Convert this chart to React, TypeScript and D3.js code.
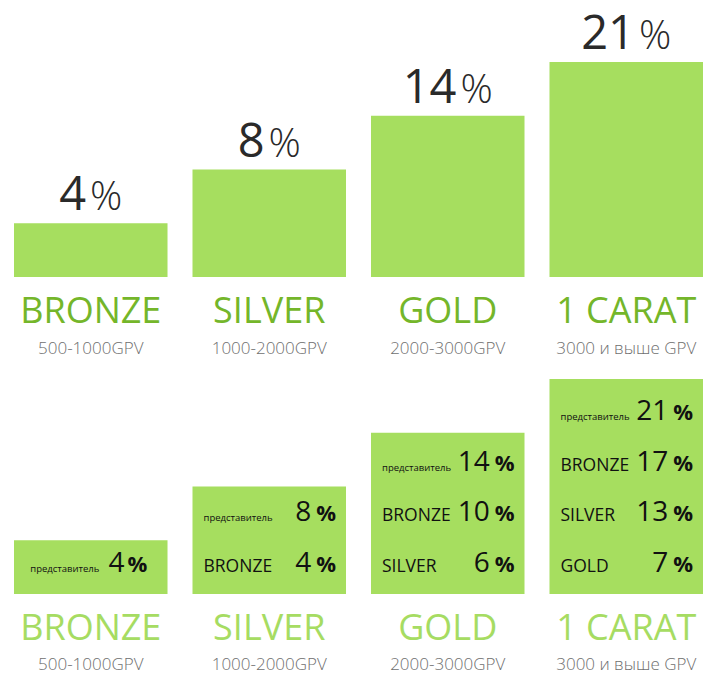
import React from "react";
import * as d3 from "d3";

const tiers = ["BRONZE", "SILVER", "GOLD", "1 CARAT"];
const gpvRanges = ["500-1000GPV", "1000-2000GPV", "2000-3000GPV", "3000 и выше GPV"];
const rates = [4, 8, 14, 21];
const rowLabels = [
  ["представитель"],
  ["представитель", "BRONZE"],
  ["представитель", "BRONZE", "SILVER"],
  ["представитель", "BRONZE", "SILVER", "GOLD"],
];
const rowValues = [
  [4],
  [8, 4],
  [14, 10, 6],
  [21, 17, 13, 7],
];

const W = 704;
const H = 674;
const FONT = "'Open Sans', 'Noto Sans', sans-serif";
const BAR = "#a6de5f";
const GREEN_DARK = "#74b62a";
const GREEN_LIGHT = "#a6dc62";
const GREY = "#6f6f6f";

export default function App() {
  const x = d3
    .scaleBand<string>()
    .domain(tiers)
    .range([14, 703])
    .paddingInner(0.14)
    .paddingOuter(0);
  const bw = x.bandwidth();

  const yTop = d3.scaleLinear().domain([0, 4]).range([277, 62]);
  const yBot = d3.scaleLinear().domain([0, 4]).range([594, 379]);
  const rowY = d3.scaleLinear().domain([0, 3]).range([572, 420]);

  return (
    <svg
      width={W}
      height={H}
      style={{ position: "absolute", left: 0, top: 0, background: "#fff" }}
      fontFamily={FONT}
    >
      {/* top chart */}
      {tiers.map((t, i) => {
        const x0 = x(t)!;
        const cx = x0 + bw / 2;
        const top = yTop(i + 1);
        return (
          <g key={"top" + t}>
            <rect x={x0} y={top} width={bw} height={yTop(0) - top} fill={BAR} />
            <text x={cx} y={top - 13} textAnchor="middle" fill="#2a2a2a">
              <tspan fontSize={47}>{rates[i]}</tspan>
              <tspan fontSize={40} fontWeight={300} dx={4}>%</tspan>
            </text>
            <text x={cx} y={yTop(0) + 46} textAnchor="middle" fill={GREEN_DARK} fontSize={36}>
              {t}
            </text>
            <text x={cx} y={yTop(0) + 77} textAnchor="middle" fill={GREY} fontSize={17} fontWeight={300}>
              {gpvRanges[i]}
            </text>
          </g>
        );
      })}

      {/* bottom chart */}
      {tiers.map((t, i) => {
        const x0 = x(t)!;
        const cx = x0 + bw / 2;
        const top = yBot(i + 1);
        const labels = rowLabels[i];
        const vals = rowValues[i];
        const n = labels.length;
        return (
          <g key={"bot" + t}>
            <rect x={x0} y={top} width={bw} height={yBot(0) - top} fill={BAR} />
            {labels.map((lab, r) => {
              const fromBottom = n - 1 - r;
              const by = rowY(fromBottom);
              const small = lab === "представитель";
              if (n === 1) {
                return (
                  <text key={r} x={cx - 2} y={by} textAnchor="middle" fill="#111">
                    <tspan fontSize={small ? 9.5 : 17.5}>{lab}</tspan>
                    <tspan fontSize={28} dx={9}>{vals[r]}</tspan>
                    <tspan fontSize={22} fontWeight={700} dx={3}>%</tspan>
                  </text>
                );
              }
              return (
                <g key={r}>
                  <text x={x0 + 11} y={by} fill="#111" fontSize={small ? 9.5 : 17.5}>
                    {lab}
                  </text>
                  <text x={x0 + bw - 10} y={by} textAnchor="end" fill="#111">
                    <tspan fontSize={28}>{vals[r]}</tspan>
                    <tspan fontSize={22} fontWeight={700} dx={5}>%</tspan>
                  </text>
                </g>
              );
            })}
            <text x={cx} y={yBot(0) + 46} textAnchor="middle" fill={GREEN_LIGHT} fontSize={36}>
              {t}
            </text>
            <text x={cx} y={yBot(0) + 76} textAnchor="middle" fill={GREY} fontSize={17} fontWeight={300}>
              {gpvRanges[i]}
            </text>
          </g>
        );
      })}
    </svg>
  );
}
